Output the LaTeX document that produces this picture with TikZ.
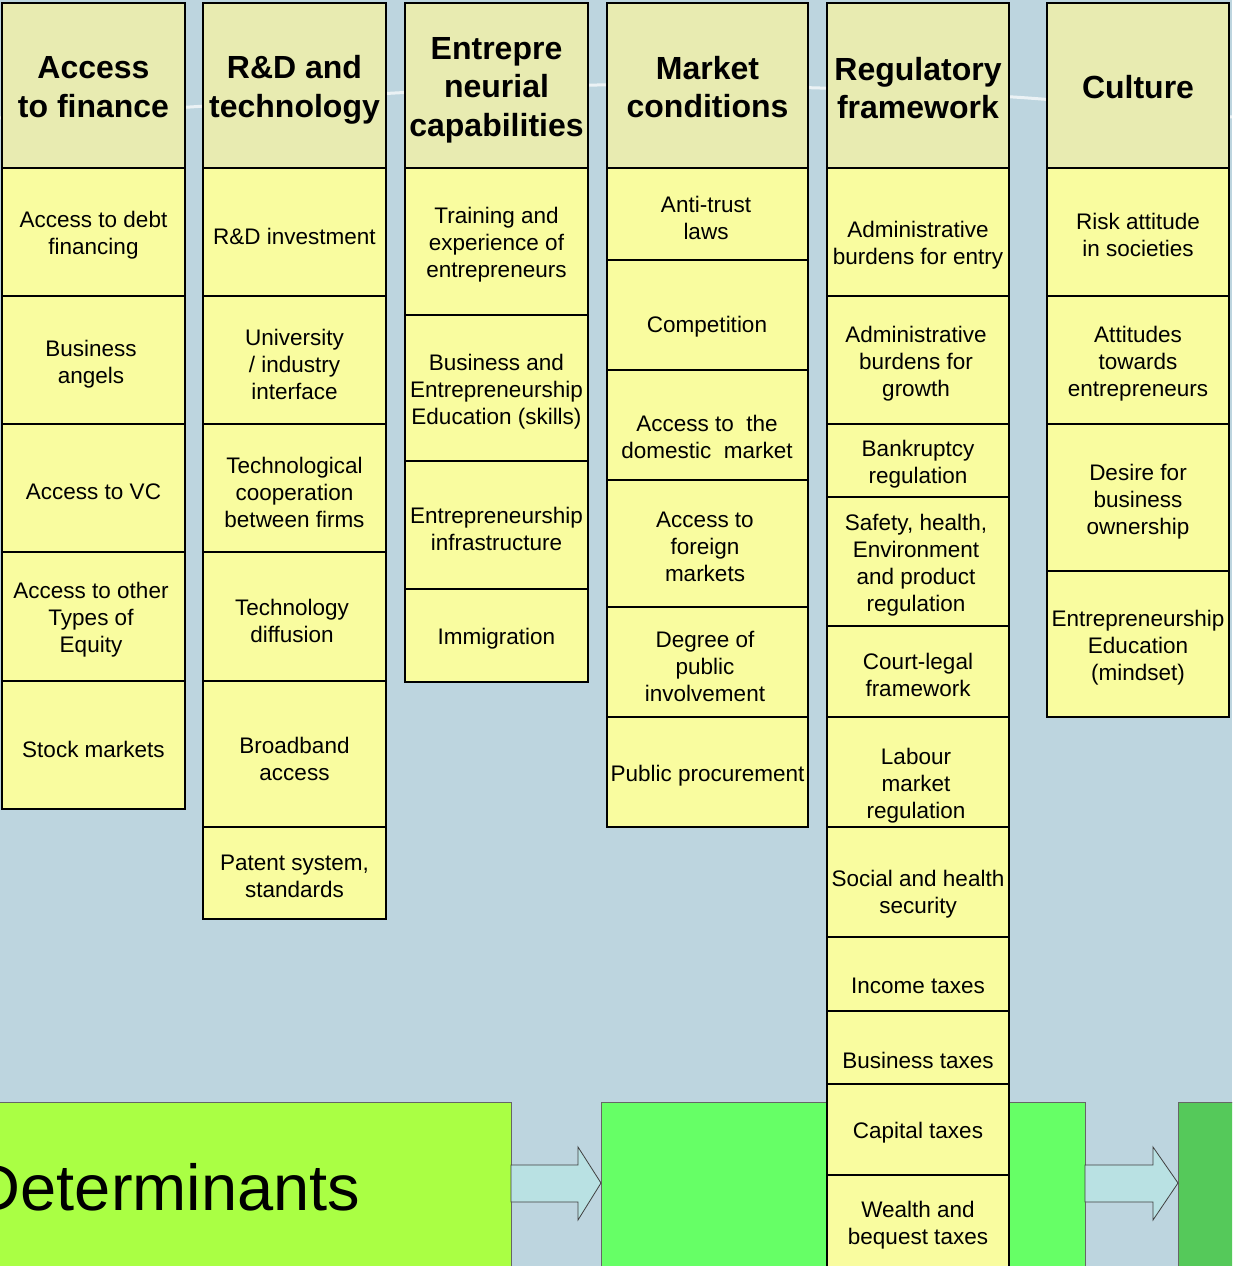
\documentclass[tikz,border=0pt]{standalone}
\usepackage{fontspec}
\setmainfont{Liberation Sans}
\usepackage{xcolor}

\definecolor{slide}{HTML}{BDD5DF}
\definecolor{headfill}{HTML}{E8EBB1}
\definecolor{cellfill}{HTML}{F9FC9F}
\definecolor{detgreen}{HTML}{AAFF44}
\definecolor{perfgreen}{HTML}{66FF66}
\definecolor{impgreen}{HTML}{55C95A}
\definecolor{arrowfill}{HTML}{B9E1E3}

\begin{document}
\begin{tikzpicture}[x=1pt, y=-1pt,
    headbox/.style={draw=black, fill=headfill, line width=2.6pt},
    cellbox/.style={draw=black, fill=cellfill, line width=2.6pt},
    headtxt/.style={align=center, inner sep=0, font=\fontsize{32}{38.5}\selectfont\bfseries},
    celltxt/.style={align=center, inner sep=0, yshift=-3pt, font=\fontsize{22.5}{27}\selectfont},
    bigbox/.style={draw=black!60, line width=0.8pt, minimum height=188, inner sep=0, outer sep=0},
    blockarrow/.style={draw=black!75, fill=arrowfill, line width=0.8pt, line join=miter}]

    \useasboundingbox (0,0) rectangle (1232,1266);
    \clip (0,0) rectangle (1232,1266);
    \fill[slide] (0,0) rectangle (1232,1266);
    \draw[white, line width=3pt, opacity=.7] plot[smooth] coordinates {(0,118) (190,107) (395,93) (597,85) (820,88) (1028,98) (1232,117)};

    % outcome boxes along the bottom
    \node[bigbox, fill=detgreen, minimum width=611] (det) at (205.5,1196) {};
    \node[bigbox, fill=perfgreen, minimum width=484] (perf) at (843,1196) {};
    \node[bigbox, fill=impgreen, minimum width=100] (impact) at (1228,1196) {};
    \node[anchor=base, inner sep=0, font=\fontsize{65}{78}\selectfont] (dettxt) at (167,1210) {Determinants};

    \draw[blockarrow] ([yshift=13pt]det.east) ++(0,-18) -- ++(67,0) -- ++(0,-18) -- ([yshift=13pt]perf.west)
        -- ++(-23,37) -- ++(0,-18) -- ([yshift=-6pt]det.east) -- cycle;
    \draw[blockarrow] ([yshift=13pt]perf.east) ++(0,-18) -- ++(68,0) -- ++(0,-18) -- ([yshift=13pt]impact.west)
        -- ++(-25,37) -- ++(0,-18) -- ([yshift=-6pt]perf.east) -- cycle;

    % access to finance
    \draw[headbox] (2,3) rectangle (185,168);
    \draw[cellbox] (2,168) rectangle (185,296);
    \draw[cellbox] (2,296) rectangle (185,424);
    \draw[cellbox] (2,424) rectangle (185,552);
    \draw[cellbox] (2,552) rectangle (185,681);
    \draw[cellbox] (2,681) rectangle (185,809);
    \node[headtxt] (fin0) at (93.5,87) {Access\\to finance};
    \node[celltxt] (fin1) at (93.5,232) {Access to debt\\financing};
    \node[celltxt] (fin2) at (91,361) {Business\\angels};
    \node[celltxt] (fin3) at (93.5,489) {Access to VC};
    \node[celltxt] (fin4) at (91,617) {Access to other\\Types of\\Equity};
    \node[celltxt] (fin5) at (93.5,746) {Stock markets};

    % R&D and technology
    \draw[headbox] (203,3) rectangle (386,168);
    \draw[cellbox] (203,168) rectangle (386,296);
    \draw[cellbox] (203,296) rectangle (386,424);
    \draw[cellbox] (203,424) rectangle (386,552);
    \draw[cellbox] (203,552) rectangle (386,681);
    \draw[cellbox] (203,681) rectangle (386,827);
    \draw[cellbox] (203,827) rectangle (386,919);
    \node[headtxt] (rd0) at (294.5,90) {R\&D and\\technology};
    \node[celltxt] (rd1) at (294.5,233) {R\&D investment};
    \node[celltxt] (rd2) at (294.5,361) {University\\/ industry\\interface};
    \node[celltxt] (rd3) at (294.5,489) {Technological\\cooperation\\between firms};
    \node[celltxt] (rd4) at (292,617.5) {Technology\\diffusion};
    \node[celltxt] (rd5) at (294.5,755.5) {Broadband\\access};
    \node[celltxt] (rd6) at (294.5,873.5) {Patent system,\\standards};

    % entrepreneurial capabilities
    \draw[headbox] (405,3) rectangle (588,168);
    \draw[cellbox] (405,168) rectangle (588,315);
    \draw[cellbox] (405,315) rectangle (588,461);
    \draw[cellbox] (405,461) rectangle (588,589);
    \draw[cellbox] (405,589) rectangle (588,682);
    \node[headtxt] (ent0) at (496.5,90) {Entrepre\\neurial\\capabilities};
    \node[celltxt] (ent1) at (496.5,242) {Training and\\experience of\\entrepreneurs};
    \node[celltxt] (ent2) at (496.5,388.5) {Business and\\Entrepreneurship\\Education (skills)};
    \node[celltxt] (ent3) at (496.5,525.5) {Entrepreneurship\\infrastructure};
    \node[celltxt] (ent4) at (496.5,636) {Immigration};

    % market conditions
    \draw[headbox] (607,3) rectangle (808,168);
    \draw[cellbox] (607,168) rectangle (808,260);
    \draw[cellbox] (607,260) rectangle (808,370);
    \draw[cellbox] (607,370) rectangle (808,480);
    \draw[cellbox] (607,480) rectangle (808,607);
    \draw[cellbox] (607,607) rectangle (808,717);
    \draw[cellbox] (607,717) rectangle (808,827);
    \node[headtxt] (mkt0) at (707.5,87) {Market\\conditions};
    \node[celltxt] (mkt1) at (706,214.5) {Anti-trust\\laws};
    \node[celltxt] (mkt2) at (707,324) {Competition};
    \node[celltxt] (mkt3) at (707,434) {Access to\ \ the\\domestic\ \ market};
    \node[celltxt] (mkt4) at (705,544) {Access to\\foreign\\markets};
    \node[celltxt] (mkt5) at (705,663) {Degree of\\public\\involvement};
    \node[celltxt] (mkt6) at (707.5,773) {Public procurement};

    % regulatory framework
    \draw[headbox] (827,3) rectangle (1009,168);
    \draw[cellbox] (827,168) rectangle (1009,296);
    \draw[cellbox] (827,296) rectangle (1009,424);
    \draw[cellbox] (827,424) rectangle (1009,497);
    \draw[cellbox] (827,497) rectangle (1009,626);
    \draw[cellbox] (827,626) rectangle (1009,717);
    \draw[cellbox] (827,717) rectangle (1009,827);
    \draw[cellbox] (827,827) rectangle (1009,937);
    \draw[cellbox] (827,937) rectangle (1009,1011);
    \draw[cellbox] (827,1011) rectangle (1009,1084);
    \draw[cellbox] (827,1084) rectangle (1009,1175);
    \draw[cellbox] (827,1175) rectangle (1009,1290);
    \node[headtxt] (reg0) at (918,88) {Regulatory\\framework};
    \node[celltxt] (reg1) at (918,242) {Administrative\\burdens for entry};
    \node[celltxt] (reg2) at (916,361) {Administrative\\burdens for\\growth};
    \node[celltxt] (reg3) at (918,461.5) {Bankruptcy\\regulation};
    \node[celltxt] (reg4) at (916,562.5) {Safety, health,\\Environment\\and product\\regulation};
    \node[celltxt] (reg5) at (918,671.5) {Court-legal\\framework};
    \node[celltxt] (reg6) at (916,783) {Labour\\market\\regulation};
    \node[celltxt] (reg7) at (918,891.5) {Social and health\\security};
    \node[celltxt] (reg8) at (918,983) {Income taxes};
    \node[celltxt] (reg9) at (918,1057) {Business taxes};
    \node[celltxt] (reg10) at (918,1130) {Capital taxes};
    \node[celltxt] (reg11) at (918,1222) {Wealth and\\bequest taxes};

    % culture
    \draw[headbox] (1047,3) rectangle (1229,168);
    \draw[cellbox] (1047,168) rectangle (1229,296);
    \draw[cellbox] (1047,296) rectangle (1229,424);
    \draw[cellbox] (1047,424) rectangle (1229,571);
    \draw[cellbox] (1047,571) rectangle (1229,717);
    \node[headtxt] (cul0) at (1138,87) {Culture};
    \node[celltxt] (cul1) at (1138,232) {Risk attitude\\in societies};
    \node[celltxt] (cul2) at (1138,361) {Attitudes\\towards\\entrepreneurs};
    \node[celltxt] (cul3) at (1138,499) {Desire for\\business\\ownership};
    \node[celltxt] (cul4) at (1138,645) {Entrepreneurship\\Education\\(mindset)};
\end{tikzpicture}
\end{document}
